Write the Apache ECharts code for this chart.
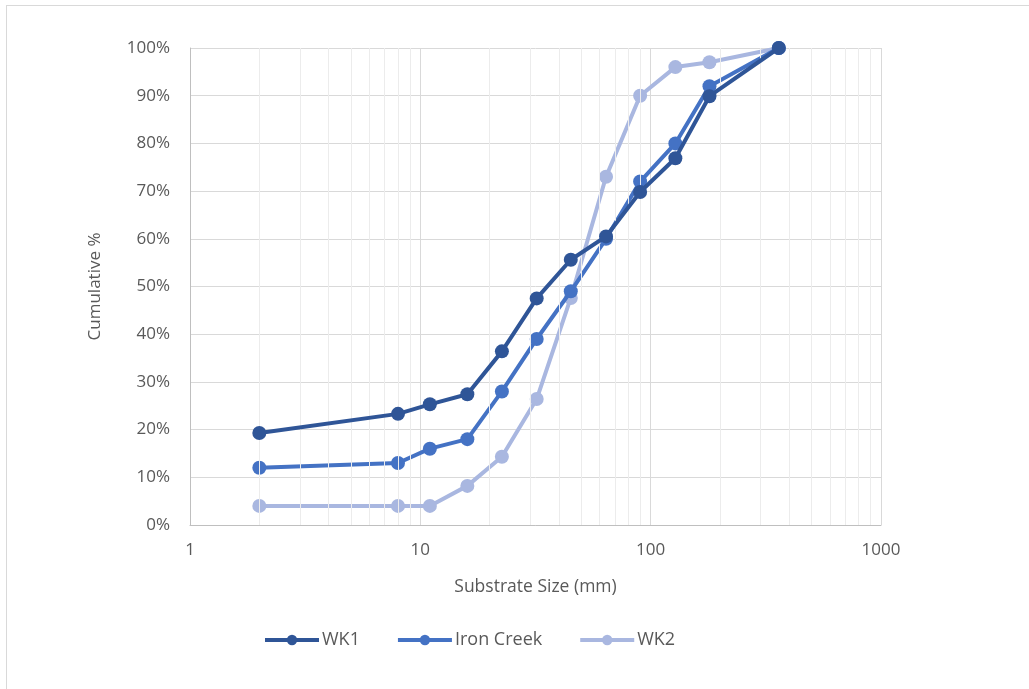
<!DOCTYPE html>
<html><head><meta charset="utf-8">
<script src="https://cdn.jsdelivr.net/npm/echarts@6/dist/echarts.min.js"></script>
<style>
html,body{margin:0;padding:0;background:#fff;}
#frame{position:absolute;left:6px;top:5px;width:1040px;height:700px;border:1px solid #d9d9d9;box-sizing:border-box;}
#c{position:absolute;left:0;top:0;width:1029px;height:689px;}
</style></head>
<body>
<div id="frame"></div>
<div id="c"></div>
<script>
const sizes = [2, 8, 11, 16, 22.6, 32, 45, 64, 90, 128, 180, 360];
const wk1 = [19.3, 23.3, 25.3, 27.4, 36.4, 47.5, 55.6, 60.5, 69.8, 76.9, 89.9, 100];
const ironCreek = [12, 13, 16, 18, 28, 39, 49, 60, 72, 80, 92, 100];
const wk2 = [4, 4, 4, 8.2, 14.3, 26.4, 47.6, 73, 90, 96, 97, 100];
const minorGrid = [2,3,4,5,6,7,8,9,20,30,40,50,60,70,80,90,200,300,400,500,600,700,800,900];
const seriesNames = ['WK1', 'Iron Creek', 'WK2'];
const colors = ['#2F5597', '#4472C4', '#A9B7E0'];

const chart = echarts.init(document.getElementById('c'));
const font = '"Open Sans", sans-serif';
const mk = (name, vals, color, z) => ({
  name, type: 'line', z,
  data: sizes.map((s, i) => [s, vals[i]]),
  symbol: 'circle', symbolSize: 14,
  lineStyle: { width: 4, color },
  itemStyle: { color },
  emphasis: { disabled: true }
});
chart.setOption({
  animation: false,
  textStyle: { fontFamily: font },
  grid: { left: 190, right: 148, top: 48, bottom: 164 },
  legend: {
    top: 626, left: 258,
    data: seriesNames,
    itemWidth: 54, itemHeight: 13, itemGap: 36,
    lineStyle: { width: 4 },
    textStyle: { fontSize: 18, color: '#595959', fontFamily: font, padding: [0, 0, 0, -2] }
  },
  xAxis: {
    type: 'log', logBase: 10, min: 1, max: 1000,
    name: 'Substrate Size (mm)', nameLocation: 'middle', nameGap: 53,
    nameTextStyle: { fontSize: 17.5, color: '#595959' },
    axisLine: { show: true, lineStyle: { color: '#bfbfbf', width: 1 } },
    axisTick: { show: false },
    axisLabel: { fontSize: 17, color: '#595959', margin: 17, formatter: v => String(v) },
    splitLine: { show: true, lineStyle: { color: '#d9d9d9', width: 1 } }
  },
  yAxis: {
    type: 'value', min: 0, max: 100, interval: 10,
    name: 'Cumulative %', nameLocation: 'middle', nameGap: 86,
    nameTextStyle: { fontSize: 17, color: '#595959' },
    axisLine: { show: true, lineStyle: { color: '#bfbfbf', width: 1 } },
    axisTick: { show: false },
    axisLabel: { fontSize: 17, color: '#595959', margin: 20, formatter: v => v + '%' },
    splitLine: { show: true, lineStyle: { color: '#d9d9d9', width: 1 } }
  },
  series: [
    {
      name: 'grid-minor', type: 'line', data: [], z: 0, silent: true,
      markLine: {
        silent: true, symbol: 'none', label: { show: false },
        lineStyle: { color: '#ececec', width: 1, type: 'solid' },
        animation: false,
        data: minorGrid.map(v => ({ xAxis: v }))
      }
    },
    mk(seriesNames[2], wk2, colors[2], 3),
    mk(seriesNames[1], ironCreek, colors[1], 4),
    mk(seriesNames[0], wk1, colors[0], 5)
  ]
});
</script>
</body></html>
